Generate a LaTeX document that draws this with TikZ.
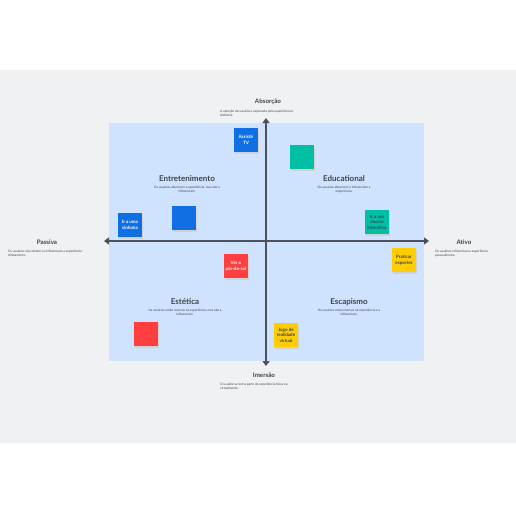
\documentclass[tikz,border=0pt]{standalone}
\usepackage{fontspec}
\setmainfont{Lato}
\usetikzlibrary{arrows.meta}
\definecolor{bgband}{HTML}{F0F1F3}
\definecolor{quad}{HTML}{CFE3FE}
\definecolor{axis}{HTML}{4B525C}
\definecolor{nblue}{HTML}{1070E3}
\definecolor{nteal}{HTML}{00BFA5}
\definecolor{nred}{HTML}{FF3F3F}
\definecolor{nyellow}{HTML}{FFCD05}
\definecolor{ttl}{HTML}{3D434B}
\begin{document}
\begin{tikzpicture}[x=1pt,y=-1pt,
  note/.style={minimum width=24pt,minimum height=24pt,inner sep=0pt,align=center,
    font=\fontsize{4.5}{5.6}\selectfont\bfseries},
  qtitle/.style={font=\fontsize{8}{9}\selectfont\bfseries,text=ttl},
  qdesc/.style={font=\fontsize{3.2}{4.2}\selectfont,text=ttl,align=center,inner sep=0pt},
  adesc/.style={font=\fontsize{3.2}{3.9}\selectfont,text=ttl,align=left,anchor=north west,inner sep=0pt},
  atitle/.style={font=\fontsize{6.2}{7}\selectfont\bfseries,text=ttl},
  shad/.style={fill=black!18}
]
\useasboundingbox (0,0) rectangle (516,516);
\fill[white] (0,0) rectangle (516,516);
\fill[bgband] (0,70) rectangle (516,443);
\fill[quad] (109,123) rectangle (424,361);
% axes
\coordinate (L) at (104,241);
\coordinate (R) at (429,241);
\coordinate (T) at (266,118);
\coordinate (B) at (266,366);
\draw[axis,line width=2.8pt,{Triangle[width=7pt,length=5pt]}-{Triangle[width=7pt,length=5pt]}] (L) -- (R);
\draw[axis,line width=2.8pt,{Triangle[width=7pt,length=5pt]}-{Triangle[width=7pt,length=5pt]}] (T) -- (B);
% axis labels
\node[atitle] (abs) at (268,102) {Absorção};
\node[adesc] (absd) at (220,110) {A atenção do usuário é capturada pela experiência à\\distância.};
\node[atitle] (pas) at (47,242) {Passiva};
\node[adesc] (pasd) at (8,250) {Os usuários não afetam ou influenciam a experiência\\diretamente.};
\node[atitle] (atv) at (464,242) {Ativo};
\node[adesc] (atvd) at (435,250) {Os usuários influenciam a experiência\\pessoalmente.};
\node[atitle] (ime) at (264,375) {Imersão};
\node[adesc] (imed) at (220,383) {O usuário se torna parte da experiência física ou\\virtualmente.};
% quadrant titles
\node[qtitle] (q1) at (187,179) {Entretenimento};
\node[qdesc,anchor=north] (q1d) at (187,186) {Os usuários absorvem a experiência, mas não a\\influenciam.};
\node[qtitle] (q2) at (344,179) {Educational};
\node[qdesc,anchor=north] (q2d) at (344,186) {Os usuários absorvem e influenciam a\\experiência.};
\node[qtitle] (q3) at (185,302) {Estética};
\node[qdesc,anchor=north] (q3d) at (185,309) {Os usuários estão imersos na experiência, mas não a\\influenciam.};
\node[qtitle] (q4) at (349,302) {Escapismo};
\node[qdesc,anchor=north] (q4d) at (349,309) {Os usuários estão imersos na experiência e a\\influenciam.};
% sticky notes (shadow then note)
\foreach \x/\y in {246/140,184/218,130/225,302/157,377/222,236/266,146/334,404/260,286/335}{
  \fill[shad] (\x-11.5,\y-10.5) rectangle (\x+12.5,\y+13.5);
}
\node[note,fill=nblue,text=white] (n1) at (246,140) {Assistir\\TV};
\node[note,fill=nblue] (n2) at (184,218) {};
\node[note,fill=nblue,text=white] (n3) at (130,225) {Ir a uma\\sinfonia};
\node[note,fill=nteal] (n4) at (302,157) {};
\node[note,fill=nteal,text=ttl] (n5) at (377,222) {Ir a um\\museu\\interativo};
\node[note,fill=nred,text=white] (n6) at (236,266) {Ver o\\pôr-do-sol};
\node[note,fill=nred] (n7) at (146,334) {};
\node[note,fill=nyellow,text=ttl] (n8) at (404,260) {Praticar\\esportes};
\node[note,fill=nyellow,text=ttl] (n9) at (286,335) {Jogo de\\realidade\\virtual};
\end{tikzpicture}
\end{document}
